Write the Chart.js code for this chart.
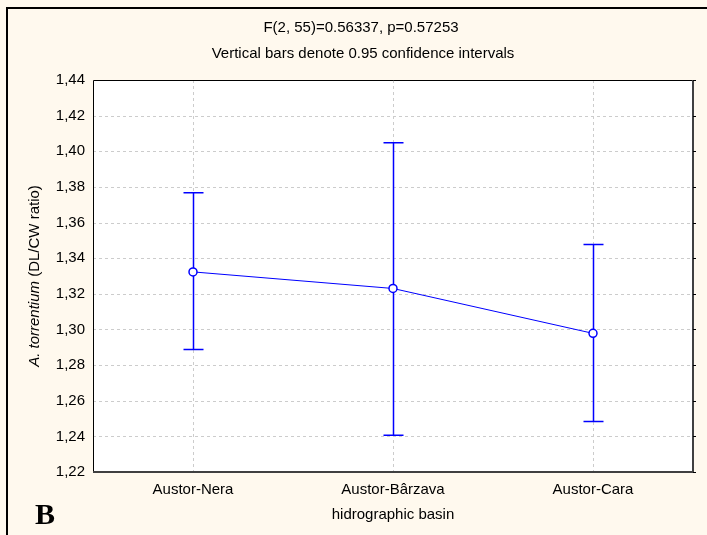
<!DOCTYPE html>
<html>
<head>
<meta charset="utf-8">
<script src="https://cdn.jsdelivr.net/npm/chart.js@4.4.1/dist/chart.umd.min.js"></script>
<style>
  html, body { margin: 0; padding: 0; background: #fff9ee; }
  #wrap { width: 707px; height: 535px; position: relative; }
</style>
</head>
<body>
<div id="wrap"><canvas id="chart"></canvas></div>
<script>
const basins = ['Austor-Nera', 'Austor-Bârzava', 'Austor-Cara'];
const means = [1.3323, 1.3230, 1.2978];
const lower = [1.2887, 1.2406, 1.2484];
const upper = [1.3767, 1.4048, 1.3477];
const yTicks = [1.22, 1.24, 1.26, 1.28, 1.30, 1.32, 1.34, 1.36, 1.38, 1.40, 1.42, 1.44];
const titleLines = ['F(2, 55)=0.56337, p=0.57253', 'Vertical bars denote 0.95 confidence intervals'];
const xTitle = 'hidrographic basin';
const yTitleItalic = 'A. torrentium';
const yTitleRest = ' (DL/CW ratio)';

const blue = '#0000ff';
const cream = '#fff9ee';
const font = '"Liberation Sans", Arial, sans-serif';

Chart.defaults.font.family = font;
Chart.defaults.font.size = 15;
Chart.defaults.color = '#000';

// background, plot area, grid and confidence bars
const decor = {
  id: 'decor',
  beforeDraw(chart) {
    const { ctx, chartArea: a } = chart;
    ctx.save();
    ctx.fillStyle = cream;
    ctx.fillRect(0, 0, chart.width, chart.height);
    ctx.fillStyle = '#fff';
    ctx.fillRect(a.left, a.top, a.right - a.left, a.bottom - a.top);
    ctx.restore();
  },
  beforeDatasetsDraw(chart) {
    const { ctx, chartArea: a, scales: { x, y } } = chart;
    ctx.save();
    // dashed grid
    ctx.strokeStyle = '#cccccc';
    ctx.lineWidth = 1;
    ctx.setLineDash([3, 3]);
    yTicks.forEach(v => {
      const py = Math.round(y.getPixelForValue(v)) + 0.5;
      if (py <= a.top + 1 || py >= a.bottom - 1) return;
      ctx.beginPath(); ctx.moveTo(a.left, py); ctx.lineTo(a.right, py); ctx.stroke();
    });
    basins.forEach((b, i) => {
      const px = Math.round(x.getPixelForValue(i)) + 0.5;
      ctx.beginPath(); ctx.moveTo(px, a.top); ctx.lineTo(px, a.bottom); ctx.stroke();
    });
    ctx.setLineDash([]);

    // confidence bars
    ctx.strokeStyle = blue;
    ctx.lineWidth = 1.5;
    means.forEach((m, i) => {
      const px = Math.round(x.getPixelForValue(i)) + 0.5;
      const pl = y.getPixelForValue(lower[i]);
      const pu = y.getPixelForValue(upper[i]);
      ctx.beginPath();
      ctx.moveTo(px, pl); ctx.lineTo(px, pu);
      ctx.moveTo(px - 10, pl); ctx.lineTo(px + 10, pl);
      ctx.moveTo(px - 10, pu); ctx.lineTo(px + 10, pu);
      ctx.stroke();
    });
    ctx.restore();
  },
  afterDraw(chart) {
    const { ctx, chartArea: a, scales: { x, y } } = chart;
    ctx.save();
    // plot frame
    ctx.lineWidth = 1;
    ctx.strokeStyle = '#000';
    ctx.beginPath();
    ctx.moveTo(a.left + 0.5, a.bottom); ctx.lineTo(a.left + 0.5, a.top + 0.5); ctx.lineTo(a.right, a.top + 0.5);
    ctx.stroke();
    ctx.lineWidth = 2;
    ctx.strokeStyle = '#404040';
    ctx.beginPath();
    ctx.moveTo(a.left, a.bottom); ctx.lineTo(a.right, a.bottom); ctx.lineTo(a.right, a.top);
    ctx.stroke();
    // small tick marks on right edge
    ctx.lineWidth = 1;
    ctx.strokeStyle = '#000';
    yTicks.forEach(v => {
      const py = Math.round(y.getPixelForValue(v)) + 0.5;
      ctx.beginPath(); ctx.moveTo(a.right, py); ctx.lineTo(a.right + 3, py); ctx.stroke();
    });

    // outer frame
    ctx.lineWidth = 2;
    ctx.strokeStyle = '#000';
    ctx.strokeRect(7, 8, chart.width + 10, chart.height + 10);

    // titles
    ctx.fillStyle = '#000';
    ctx.textAlign = 'center';
    ctx.textBaseline = 'middle';
    ctx.font = '15px ' + font;
    ctx.fillText(titleLines[0], 361, 28);
    ctx.fillText(titleLines[1], 363, 54);
    ctx.fillText(xTitle, (a.left + a.right) / 2, 515);

    // y title: italic species name + plain rest
    ctx.save();
    ctx.translate(35, (a.top + a.bottom) / 2);
    ctx.rotate(-Math.PI / 2);
    ctx.textAlign = 'left';
    ctx.font = 'italic 15px ' + font;
    const w1 = ctx.measureText(yTitleItalic).width;
    ctx.font = '15px ' + font;
    const w2 = ctx.measureText(yTitleRest).width;
    let sx = -(w1 + w2) / 2;
    ctx.font = 'italic 15px ' + font;
    ctx.fillText(yTitleItalic, sx, 0);
    ctx.font = '15px ' + font;
    ctx.fillText(yTitleRest, sx + w1, 0);
    ctx.restore();

    // panel letter
    ctx.font = 'bold 30px "Liberation Serif", "Times New Roman", serif';
    ctx.textAlign = 'left';
    ctx.textBaseline = 'alphabetic';
    ctx.fillText('B', 35, 524);
    ctx.restore();
  }
};

new Chart(document.getElementById('chart').getContext('2d'), {
  type: 'line',
  data: {
    labels: basins,
    datasets: [{
      data: means,
      borderColor: blue,
      borderWidth: 1,
      tension: 0,
      pointRadius: 4,
      pointHoverRadius: 4,
      pointBackgroundColor: '#fff',
      pointBorderColor: blue,
      pointBorderWidth: 1.5
    }]
  },
  options: {
    responsive: true,
    maintainAspectRatio: false,
    animation: false,
    layout: { padding: { top: 80, right: 14, left: 0, bottom: 0 } },
    plugins: { legend: { display: false }, tooltip: { enabled: false }, title: { display: false } },
    scales: {
      x: {
        offset: true,
        grid: { display: false },
        border: { display: false },
        ticks: { padding: 1, maxRotation: 0 },
        afterFit: s => { s.height = 63; }
      },
      y: {
        min: 1.22,
        max: 1.44,
        grid: { display: false },
        border: { display: false },
        afterBuildTicks: s => { s.ticks = yTicks.map(v => ({ value: v })); },
        ticks: { padding: 0, callback: v => v.toFixed(2).replace('.', ',') },
        afterFit: s => { s.width = 93; }
      }
    }
  },
  plugins: [decor]
});
</script>
</body>
</html>
